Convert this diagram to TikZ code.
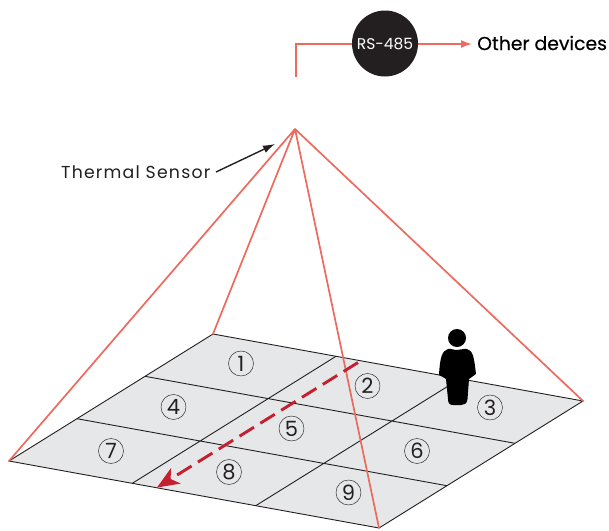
\documentclass[tikz,border=0pt]{standalone}
\usepackage{fontspec}
\setmainfont{Poppins}
\usetikzlibrary{arrows.meta}
\definecolor{salmon}{HTML}{EC6A5E}
\definecolor{floorgrey}{HTML}{E6E7E8}
\definecolor{ink}{HTML}{231F20}
\definecolor{crimson}{HTML}{C4202F}
\tikzset{
  x=1pt,y=-1pt,
  ray/.style={draw=salmon,line width=1.7pt,line cap=round},
  gridline/.style={draw=ink,line width=0.9pt},
  zonemark/.style={circle,draw=ink,line width=0.45pt,minimum size=25pt,inner sep=0pt,font=\fontsize{21}{21}\selectfont\color{ink}},
  lbl/.style={inner sep=0pt,anchor=west},
}
\begin{document}
\begin{tikzpicture}
\useasboundingbox (0,0) rectangle (609,530);
\coordinate (T) at (213,334);
\coordinate (R) at (583,401);
\coordinate (B) at (379,528);
\coordinate (L) at (9,461);
\coordinate (A) at (295,129);
\coordinate (t1) at (336,356.3);
\coordinate (t2) at (460,378.7);
\coordinate (b1) at (132.3,483.3);
\coordinate (b2) at (255.7,505.7);
\coordinate (l1) at (77,418.7);
\coordinate (l2) at (145,376.3);
\coordinate (r1) at (515,443.3);
\coordinate (r2) at (447,485.7);
\fill[floorgrey] (T)--(R)--(B)--(L)--cycle;
\draw[gridline] (T)--(R)--(B)--(L)--cycle;
\draw[gridline] (t1)--(b1) (t2)--(b2) (l1)--(r2) (l2)--(r1);
\draw[ray] (A)--(L) (A)--(T) (A)--(R) (A)--(B);
% person
\fill[black] (457,338) circle (9);
\fill[black] (448,349) .. controls (452,348.5) and (453,350) .. (457,350)
 .. controls (461,350) and (462,348.5) .. (467,349)
 .. controls (473,350.5) and (474,357) .. (476,374)
 .. controls (474,376) and (471,377) .. (469,379)
 -- (467.5,399) .. controls (467,404) and (464,405) .. (461,405)
 -- (453,405) .. controls (449.5,405) and (448,403) .. (448,399)
 -- (446,379) .. controls (444,377) and (441,376.5) .. (439,375)
 .. controls (440,357) and (442,351) .. (448,349) -- cycle;
% dashed arrow
\coordinate (d1) at (358,362.5);
\coordinate (d2) at (157,487.5);
\draw[crimson,line width=2.9pt,dash pattern=on 17pt off 7.5pt,-{Stealth[length=22pt,width=18pt,inset=6pt]}] (d1)--(d2);
% zones
\node[zonemark] (z1) at (241,363.5) {1};
\node[zonemark] (z2) at (367.5,386) {2};
\node[zonemark] (z3) at (490,407.5) {3};
\node[zonemark] (z4) at (173.5,407) {4};
\node[zonemark] (z5) at (291.5,428.5) {5};
\node[zonemark] (z6) at (417,451) {6};
\node[zonemark] (z7) at (111,451) {7};
\node[zonemark] (z8) at (229,472) {8};
\node[zonemark] (z9) at (348.5,492.5) {9};
% top
\coordinate (c0) at (296,77);
\coordinate (c1) at (296,44);
\coordinate (c2) at (472,44);
\node[circle,fill=ink,minimum size=66pt,inner sep=0pt,text=white,font=\fontsize{15.5}{16}\selectfont] (rs) at (385,43.5) {RS-485};
\node[lbl,font=\fontsize{18.8}{19}\selectfont\addfontfeature{FakeBold=0.35},text=black] (od) at (477,43) {Other devices};
\draw[salmon,line width=1.7pt] (c0)--(c1)--(rs.west |- c1);
\draw[salmon,line width=1.7pt,-{Latex[length=11pt,width=8pt]}] (rs.east |- c1)--(c2);
% sensor
\node[lbl,font=\fontsize{17.3}{18}\selectfont\addfontfeature{LetterSpace=7},text=ink] (ts) at (61,172.5) {Thermal Sensor};
\coordinate (s0) at (216,172);
\coordinate (s1) at (275,144);
\draw[ink,line width=1.4pt,-{Latex[length=12pt,width=8pt]}] (s0)--(s1);
\end{tikzpicture}
\end{document}
